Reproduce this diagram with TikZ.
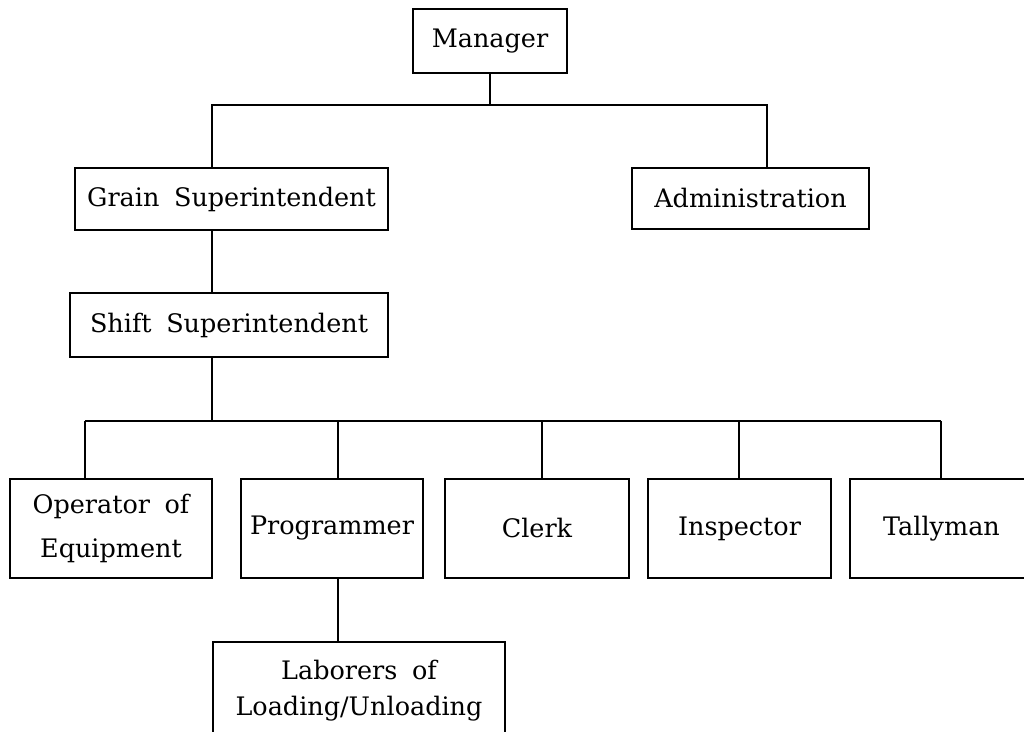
\documentclass[tikz,border=0pt]{standalone}
\usepackage{fontspec}
\setmainfont{DejaVu Serif}[WordSpace=1.8]
\begin{document}
\begin{tikzpicture}[x=0.02cm,y=-0.02cm,
  box/.style={draw, line width=1.1pt, inner sep=0pt, align=center,
    font=\fontsize{14.5}{20.5}\selectfont},
  conn/.style={line width=0.85pt}]
\path[use as bounding box, clip] (0,0) rectangle (1024,732);
\fill[white] (0,0) rectangle (1024,732);
\node[box, minimum width=3.08cm, minimum height=1.28cm] (man) at (490,41) {Manager};
\node[box, minimum width=6.26cm, minimum height=1.24cm] (grain) at (231.5,199) {Grain Superintendent};
\node[box, minimum width=4.74cm, minimum height=1.22cm] (admin) at (750.5,198.5) {Administration};
\node[box, minimum width=6.36cm, minimum height=1.28cm] (shift) at (229,325) {Shift Superintendent};
\node[box, minimum width=4.04cm, minimum height=1.98cm] (op) at (111,528.5) {Operator of\\[4.5pt]Equipment};
\node[box, minimum width=3.64cm, minimum height=1.98cm] (prog) at (332,528.5) {Programmer};
\node[box, minimum width=3.68cm, minimum height=1.98cm] (clerk) at (537,528.5) {Clerk};
\node[box, minimum width=3.66cm, minimum height=1.98cm] (insp) at (739.5,528.5) {Inspector};
\node[box, minimum width=3.66cm, minimum height=1.98cm] (tally) at (941.5,528.5) {Tallyman};
\node[box, minimum width=5.84cm, minimum height=1.96cm] (lab) at (359,691) {Laborers of\\Loading/Unloading};
\coordinate (t1) at (212,105);
\coordinate (t2) at (767,105);
\draw[conn] (man.south) -- (man.south |- t1);
\draw[conn] (t1 |- grain.north) -- (t1) -- (t2) -- (t2 |- admin.north);
\draw[conn] (t1 |- grain.south) -- (t1 |- shift.north);
\coordinate (u0) at (212,421);
\coordinate (u1) at (85,421);
\coordinate (u2) at (338,421);
\coordinate (u3) at (542,421);
\coordinate (u4) at (739,421);
\coordinate (u5) at (941,421);
\draw[conn] (u0 |- shift.south) -- (u0);
\draw[conn] (u1) -- (u5);
\foreach \n/\c in {u1/op, u2/prog, u3/clerk, u4/insp, u5/tally}
  \draw[conn] (\n) -- (\n |- \c.north);
\coordinate (v) at (338,600);
\draw[conn] (v |- prog.south) -- (v |- lab.north);
\end{tikzpicture}
\end{document}
